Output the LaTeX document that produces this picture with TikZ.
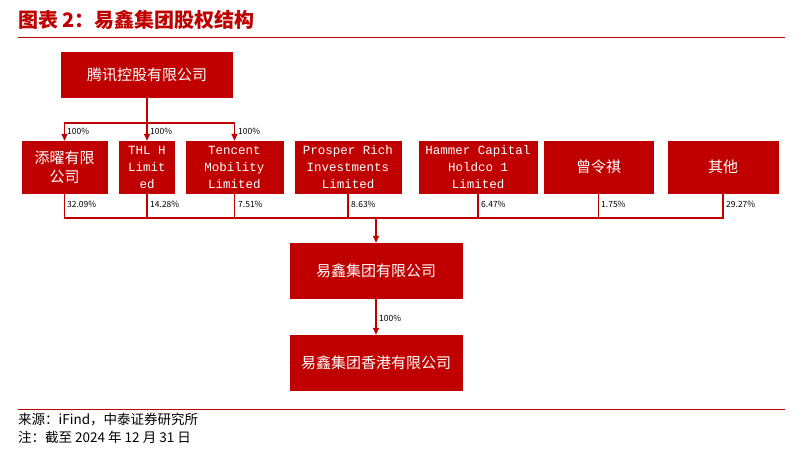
\documentclass[tikz,border=0pt]{standalone}
\usepackage{fontspec}
\setmainfont{Noto Sans CJK SC}
\newfontfamily\monof{Liberation Mono}
\usetikzlibrary{arrows.meta}
\definecolor{rd}{HTML}{C00000}
\begin{document}
\begin{tikzpicture}[x=1pt,y=-1pt,
  bx/.style={fill=rd,draw=rd,text=white,align=center,inner sep=0pt,font=\fontsize{15}{19}\selectfont},
  en/.style={bx,font=\monof\fontsize{12.5}{17}\selectfont},
  ln/.style={draw=rd,line width=1.4pt},
  ar/.style={ln,-{Triangle[length=7pt,width=6pt]}},
  pc/.style={font=\fontsize{8.5}{10}\selectfont,anchor=west,inner sep=1pt}]
\useasboundingbox (0,0) rectangle (803,450);
\node[anchor=west,text=rd,font=\bfseries\itshape\fontsize{20}{22}\selectfont,inner sep=0pt] (title) at (18,20) {图表 2：易鑫集团股权结构};
\draw[draw=rd,line width=1pt] (18,37) -- (785,37);
\node[bx,minimum width=171pt,minimum height=45pt] (tx) at (147,74.5) {腾讯控股有限公司};
\node[bx,minimum width=85pt,minimum height=52pt] (b1) at (64.5,167) {添曜有限\\公司};
\node[en,minimum width=55pt,minimum height=52pt] (b2) at (147,167) {THL H\\Limit\\ed};
\node[en,minimum width=97pt,minimum height=52pt] (b3) at (234.5,167) {Tencent\\Mobility\\Limited};
\node[en,minimum width=106pt,minimum height=52pt] (b4) at (348,167) {Prosper Rich\\Investments\\Limited};
\node[en,minimum width=118pt,minimum height=52pt] (b5) at (478,167) {Hammer Capital\\Holdco 1\\Limited};
\node[bx,minimum width=109pt,minimum height=52pt] (b6) at (598.5,167) {曾令祺};
\node[bx,minimum width=110pt,minimum height=52pt] (b7) at (723,167) {其他};
\node[bx,minimum width=172pt,minimum height=55pt] (yx) at (376,270.5) {易鑫集团有限公司};
\node[bx,minimum width=172pt,minimum height=55pt] (hk) at (376,362.5) {易鑫集团香港有限公司};
\coordinate (tj) at (147,123);
\draw[ln] (tx.south) -- (tj);
\draw[ar] (tj) -| (b1.north);
\draw[ar] (tj) -- (b2.north);
\draw[ar] (tj) -| (b3.north);
\node[pc] (p1) at (66,131) {100\%};
\node[pc] (p2) at (149,131) {100\%};
\node[pc] (p3) at (237,131) {100\%};
\coordinate (bj) at (376,218);
\draw[ln] (b1.south) |- (b7.south |- bj) -- (b7.south);
\foreach \b in {b2,b3,b4,b5,b6} \draw[ln] (\b.south) -- (\b.south |- bj);
\draw[ar] (bj) -- (yx.north);
\node[pc] at (66,204) {32.09\%};
\node[pc] at (149,204) {14.28\%};
\node[pc] at (237,204) {7.51\%};
\node[pc] at (350,204) {8.63\%};
\node[pc] at (480,204) {6.47\%};
\node[pc] at (600,204) {1.75\%};
\node[pc] at (725,204) {29.27\%};
\draw[ar] (yx.south) -- (hk.north);
\node[pc] at (378,318) {100\%};
\draw[draw=rd,line width=1pt] (18,409) -- (785,409);
\node[anchor=west,font=\fontsize{13.5}{15}\selectfont,inner sep=0pt] (s1) at (18,419) {来源：iFind，中泰证券研究所};
\node[anchor=west,font=\fontsize{13.5}{15}\selectfont,inner sep=0pt] (s2) at (18,437) {注：截至 2024 年 12 月 31 日};
\end{tikzpicture}
\end{document}
